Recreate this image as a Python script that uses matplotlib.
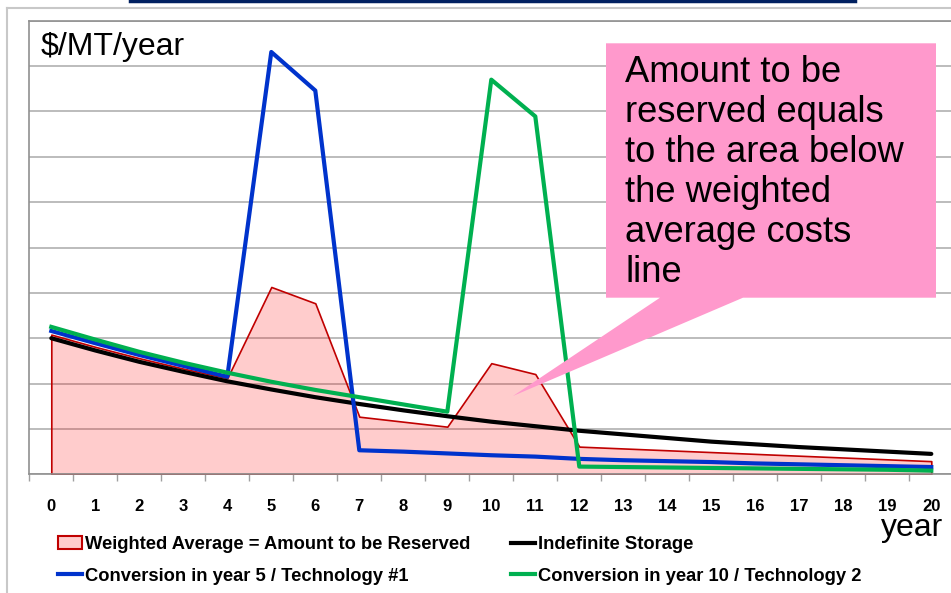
import matplotlib
matplotlib.use("Agg")
import matplotlib.pyplot as plt
from matplotlib.patches import Polygon, Patch
from matplotlib.lines import Line2D

# donnees ($/MT/year, annees 0..20)
years = list(range(21))
indefinite = [3.00, 2.73, 2.48, 2.26, 2.05, 1.87, 1.70, 1.55, 1.41, 1.28, 1.16,
              1.06, 0.96, 0.88, 0.80, 0.72, 0.66, 0.60, 0.55, 0.50, 0.45]
tech1 = [3.16, 2.89, 2.63, 2.39, 2.15, 9.31, 8.46, 0.53, 0.50, 0.46, 0.42,
         0.39, 0.34, 0.31, 0.29, 0.27, 0.24, 0.22, 0.20, 0.18, 0.16]
tech2 = [3.25, 2.97, 2.70, 2.46, 2.24, 2.04, 1.86, 1.70, 1.54, 1.38, 8.70,
         7.89, 0.17, 0.16, 0.15, 0.14, 0.13, 0.12, 0.11, 0.10, 0.08]
weighted = [3.08, 2.81, 2.56, 2.33, 2.12, 4.13, 3.77, 1.27, 1.16, 1.05, 2.45,
            2.21, 0.61, 0.57, 0.53, 0.49, 0.45, 0.41, 0.37, 0.33, 0.29]

labels = ["Weighted Average = Amount to be Reserved",
          "Conversion in year 5 / Technology #1",
          "Indefinite Storage",
          "Conversion in year 10 / Technology 2"]
callout_lines = ["Amount to be", "reserved equals", "to the area below",
                 "the weighted", "average costs", "line"]

W, H = 951, 593
BOLD = ["Liberation Sans Narrow", "Liberation Sans", "DejaVu Sans"]
REG = ["Liberation Sans", "DejaVu Sans"]


def px(x, y):
    # pixels de l'image -> fraction de la figure
    return (x / W, 1 - y / H)


fig = plt.figure(figsize=(W / 100, H / 100), dpi=100)
ax = fig.add_axes([29.3 / W, 1 - 474.3 / H, 924 / W, 453.6 / H])

ax.fill_between(years, 0, weighted, facecolor=(1, 0, 0, 0.2),
                edgecolor="#C00000", linewidth=1.2, zorder=2)
ax.plot(years, indefinite, color="black", lw=3, solid_capstyle="round", zorder=3)
ax.plot(years, tech1, color="#0033CC", lw=3, zorder=4)
ax.plot(years, tech2, color="#00B050", lw=3, zorder=5)

ax.set_xlim(-0.5, 20.5)
ax.set_ylim(0, 10)
ax.set_xticks(years)
ax.set_xticklabels([str(y) for y in years], fontweight="bold", fontsize=12, family=BOLD)
ax.set_xticks([y - 0.5 for y in range(22)], minor=True)
ax.tick_params(axis="x", which="major", length=0, pad=18)
ax.tick_params(axis="x", which="minor", length=5, width=1, color="#A0A0A0", direction="out")
ax.set_yticks(range(11))
ax.set_yticklabels([])
ax.tick_params(axis="y", length=0)
ax.grid(axis="y", color="#B0B0B0", lw=1.2, zorder=0)
ax.set_axisbelow(True)
for side in ["left", "bottom", "top"]:
    ax.spines[side].set_color("#909090")
    ax.spines[side].set_linewidth(1.2)
ax.spines["right"].set_visible(False)

# cadre exterieur et filet du titre
fig.add_artist(Line2D([6.7 / W, 6.7 / W], [1 - 8.3 / H, 0], color="#C8C8C8", lw=1.5))
fig.add_artist(Line2D([6.7 / W, 1], [1 - 8.3 / H, 1 - 8.3 / H], color="#C8C8C8", lw=1.5))
fig.add_artist(Line2D([130 / W, 855 / W], [1 - 1 / H, 1 - 1 / H], color="#002060", lw=2.5))

fig.text(*px(40.7, 55), "$/MT/year", fontsize=23, family=REG, va="baseline")
fig.text(*px(881, 536), "year", fontsize=23, family=REG, va="baseline")

# bulle
bubble = [px(606, 43.3), px(936, 43.3), px(936, 297.7), px(743, 297.7),
          px(513, 396), px(660, 297.7), px(606, 297.7)]
fig.add_artist(Polygon(bubble, closed=True, transform=fig.transFigure,
                       facecolor="#FF99CC", edgecolor="none", zorder=6))
for i, line in enumerate(callout_lines):
    fig.text(*px(625, 82.5 + 40 * i), line, fontsize=26.2, family=REG,
             va="baseline", zorder=7)

handles = [Patch(facecolor="#FFCCCC", edgecolor="#C00000", lw=1.5),
           Line2D([], [], color="#0033CC", lw=3),
           Line2D([], [], color="black", lw=3),
           Line2D([], [], color="#00B050", lw=3)]
fig.legend(handles, labels, ncol=2, loc="upper left", bbox_to_anchor=px(58, 536),
           frameon=False, borderpad=0, borderaxespad=0, handlelength=1.3,
           handletextpad=0.16, labelspacing=0.8, columnspacing=2.23,
           prop={"family": BOLD, "weight": "bold", "size": 13.2})

fig.savefig("out.png", dpi=100)
